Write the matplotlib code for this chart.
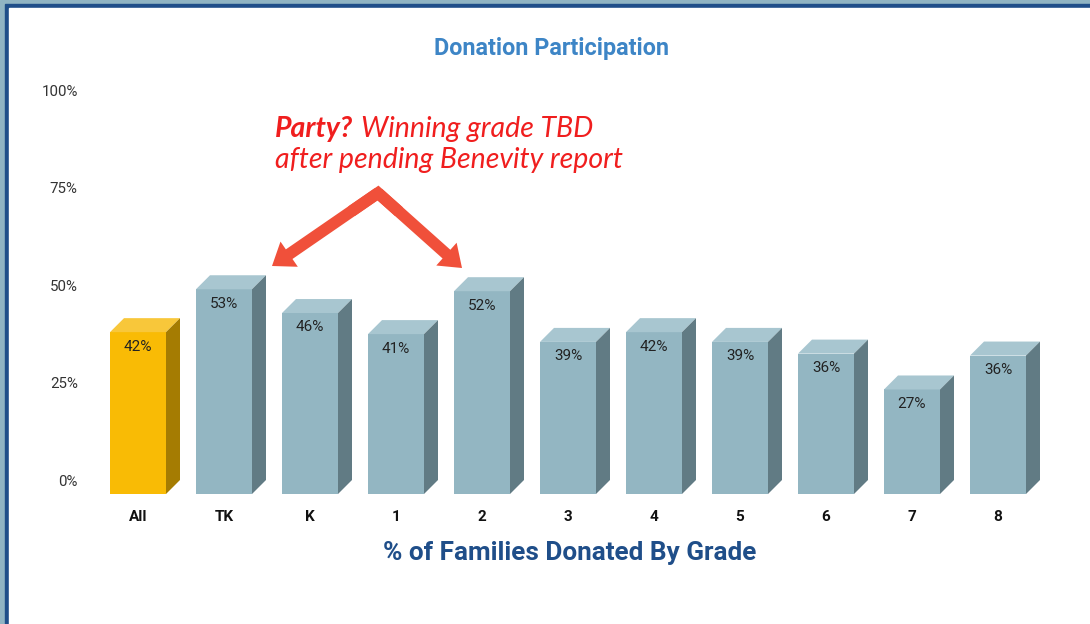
import matplotlib
matplotlib.use("Agg")
import matplotlib.pyplot as plt
from matplotlib.patches import Rectangle, Polygon
from matplotlib.lines import Line2D

categories = ["All", "TK", "K", "1", "2", "3", "4", "5", "6", "7", "8"]
values = [41.5, 52.5, 46.4, 41.0, 52.0, 39.0, 41.5, 39.0, 36.0, 26.8, 35.5]
labels = ["42%", "53%", "46%", "41%", "52%", "39%", "42%", "39%", "36%", "27%", "36%"]
yticks = [0, 25, 50, 75, 100]
ytick_labels = ["0%", "25%", "50%", "75%", "100%"]

W, H = 1090, 624
fig = plt.figure(figsize=(W / 100, H / 100), dpi=100)
fig.patch.set_facecolor("white")

# frame
fig.add_artist(Rectangle((0, 0), 1, 1, transform=fig.transFigure, color="#90B4C3", zorder=-3))
fig.add_artist(Rectangle((5 / W, -0.1), 1.2, 1.1 - 4 / H, transform=fig.transFigure, color="#1F4E89", zorder=-2))
fig.add_artist(Rectangle((9 / W, -0.1), 1.2, 1.1 - 8 / H, transform=fig.transFigure, color="white", zorder=-1))

ax_l, ax_r, ax_t, ax_b = 95, 1060, 90, 500
ax = fig.add_axes([ax_l / W, 1 - ax_b / H, (ax_r - ax_l) / W, (ax_b - ax_t) / H])
ax.set_facecolor("none")
px_per_cat = 86.0
px_per_pct = 3.9
x0 = -(138 - ax_l) / px_per_cat
ax.set_xlim(x0, x0 + (ax_r - ax_l) / px_per_cat)
ax.set_ylim(100 - (ax_b - ax_t) / px_per_pct, 100)
for s in ax.spines.values():
    s.set_visible(False)

dx = 14 / px_per_cat
dy = 14 / px_per_pct
w = 56 / px_per_cat

for i, (v, lab) in enumerate(zip(values, labels)):
    if i == 0:
        front, top, side = "#F9BB05", "#F8C73A", "#A57C02"
    else:
        front, top, side = "#93B6C2", "#A8C6D0", "#617B84"
    l, r = i - w / 2, i + w / 2
    ax.add_patch(Polygon([(l, -dy), (r, -dy), (r, v - dy), (l, v - dy)], closed=True, color=front, lw=0))
    ax.add_patch(Polygon([(l, v - dy), (r, v - dy), (r + dx, v), (l + dx, v)], closed=True, color=top, lw=0))
    ax.add_patch(Polygon([(r, -dy), (r + dx, 0), (r + dx, v), (r, v - dy)], closed=True, color=side, lw=0))
    ax.text(i, v - dy - 3.7, lab, ha="center", va="center", fontsize=11,
            color="#222222", family="Roboto")

ax.set_yticks(yticks)
ax.set_yticklabels(ytick_labels, fontsize=10.8, color="#333333", family="Roboto")
ax.set_xticks(range(len(categories)))
ax.set_xticklabels(categories, fontsize=11, fontweight="bold", color="#111111", family="Roboto")
ax.tick_params(axis="y", length=0, pad=12.5)
ax.tick_params(axis="x", length=0, pad=7)

fig.text(552 / W, 1 - 49 / H, "Donation Participation", ha="center", va="center",
         fontsize=16.8, fontweight="bold", color="#3D85C6", family="Roboto")
fig.text(570 / W, 1 - 553 / H, "% of Families Donated By Grade", ha="center", va="center",
         fontsize=18.8, fontweight="bold", color="#1F4E89", family="Roboto")

# annotation text
red = "#F01E1E"
t1 = fig.text(275 / W, 1 - 137 / H, "Party?", ha="left", va="baseline", fontsize=20.5,
              fontweight="bold", style="italic", color=red, family="Lato")
fig.canvas.draw()
bb = t1.get_window_extent()
fig.text((bb.x1 + 8) / W, 1 - 137 / H, "Winning grade TBD", ha="left", va="baseline",
         fontsize=20.5, style="italic", color=red, family="Lato")
fig.text(275 / W, 1 - 168 / H, "after pending Benevity report", ha="left", va="baseline",
         fontsize=20.5, style="italic", color=red, family="Lato")

# chevron arrows (pixel positions converted to data)
def d(px, py):
    return ((px - 138) / px_per_cat, (480 - py) / px_per_pct)

apex = d(378, 193)
ltip = d(272, 266)
rtip = d(462, 268)
acol = "#F0503A"
style = "simple,head_length=0.75,head_width=1.1,tail_width=0.42"
for tip in (ltip, rtip):
    ax.annotate("", xy=tip, xytext=apex,
                arrowprops=dict(arrowstyle=style, mutation_scale=20, color=acol,
                                shrinkA=0, shrinkB=0, lw=0))
f = 0.25
lp = (apex[0] + f * (ltip[0] - apex[0]), apex[1] + f * (ltip[1] - apex[1]))
rp = (apex[0] + f * (rtip[0] - apex[0]), apex[1] + f * (rtip[1] - apex[1]))
ax.add_line(Line2D([lp[0], apex[0], rp[0]], [lp[1], apex[1], rp[1]], color=acol,
                   lw=8.4, solid_joinstyle="miter", solid_capstyle="butt"))

fig.savefig("out.png", dpi=100)
